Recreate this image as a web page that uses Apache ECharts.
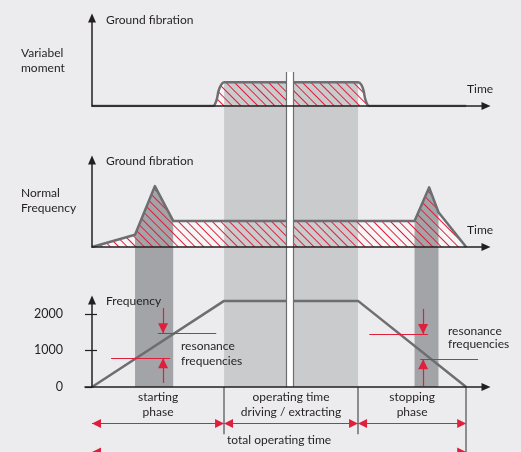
<!DOCTYPE html>
<html>
<head>
<meta charset="utf-8">
<script src="https://cdn.jsdelivr.net/npm/echarts@6/dist/echarts.min.js"></script>
<style>
  html, body { margin: 0; padding: 0; background: #ececee; }
  #chart { width: 521px; height: 452px; }
</style>
</head>
<body>
<div id="chart"></div>
<script>
// schematic time axis: 0 = switch on, 100 = machine stopped
const vmTime = [0, 32.3, 33.3, 33.8, 34.5, 35.3, 71.1, 72.0, 72.6, 73.1, 74.1, 100];
const vmLevel = [0, 0, 6.8, 17, 24, 27, 27, 24, 17, 6.8, 0, 0];
const nfTime = [0, 11.5, 16.8, 21.7, 86.2, 90.1, 92.6, 100];
const nfLevel = [0, 14, 70, 30, 30, 68.5, 40, 0];
const freqTime = [0, 35.3, 71.1, 100];
const freqValue = [0, 2356, 2356, 0];
const freqTicks = [0, 1000, 2000];
const phaseEdges = [0, 35.3, 71.1, 100];
const phaseLabels = ['starting\nphase', 'operating time\ndriving / extracting', 'stopping\nphase'];
const totalLabel = 'total operating time';
const startBand = [11.5, 21.7];
const stopBand = [86.2, 92.6];
const breakAt = [52.0, 53.9];
// resonance marks: [from, to, frequency] and arrows [time, from, to]
const resLines = [[17.6, 33.2, 1471], [5.1, 20.9, 786], [74.1, 89.8, 1452], [87.7, 103.2, 759]];
const resArrows = [[19.0, 2164, 1471], [19.0, 110, 786], [88.5, 2137, 1452], [88.5, 27, 759]];

const BG = '#ececee', LIGHT = '#f6f6f7', OP = '#c9cbcc', DARK = '#a2a4a7';
const CURVE = '#6d6e71', INK = '#231f20', RED = '#e01f3d';
const X_MAX = 105.3, X_MIN3 = -1.87;
const PHASE_ROW = 37, TOTAL_ROW = 66, GUIDE_END = 48;

const chart = echarts.init(document.getElementById('chart'));

const pts = (ts, vs) => ts.map((t, i) => [t, vs[i]]);
const within = (data, a, b) => data.filter(p => p[0] >= a && p[0] <= b);

const vm = pts(vmTime, vmLevel);
const nf = pts(nfTime, nfLevel);
const freq = pts(freqTime, freqValue);

const hatch = {
  symbol: 'rect', symbolSize: 1, color: RED,
  dashArrayX: [1, 0], dashArrayY: [1, 5], rotation: Math.PI / 4
};

const arrowLine = {
  show: true, symbol: ['none', 'triangle'], symbolSize: [8, 9],
  lineStyle: { color: INK, width: 1.5 }
};

function xAx(gridIndex, min, show) {
  return {
    type: 'value', gridIndex, min, max: X_MAX, show, z: 8,
    axisLine: arrowLine, axisTick: { show: false }, axisLabel: { show: false }, splitLine: { show: false }
  };
}

function yAx(gridIndex, max, extra) {
  return Object.assign({
    type: 'value', gridIndex, min: 0, max, z: 8, position: 'left',
    axisLine: arrowLine, axisTick: { show: false }, axisLabel: { show: false }, splitLine: { show: false }
  }, extra || {});
}

function panelSeries(ax, data, bands, smooth) {
  const base = { type: 'line', xAxisIndex: ax, yAxisIndex: ax, symbol: 'none', smooth, silent: true };
  const out = [Object.assign({}, base, {
    data, z: 2, lineStyle: { width: 0 }, areaStyle: { color: LIGHT, opacity: 1 }
  })];
  bands.forEach(b => {
    out.push(Object.assign({}, base, {
      data: within(data, b[0], b[1]), z: 3, lineStyle: { width: 0 }, areaStyle: { color: b[2], opacity: 1 }
    }));
  });
  out.push(Object.assign({}, base, {
    data, z: 4,
    lineStyle: { color: CURVE, width: 2.5, join: 'round' },
    areaStyle: { color: 'rgba(0,0,0,0)', opacity: 1 },
    itemStyle: { color: CURVE, decal: hatch }
  }));
  return out;
}

function txt(x, y, text, lineHeight) {
  return {
    type: 'text', x, y, silent: true, z: 20,
    style: { text, fill: INK, font: '12px Lato', lineHeight: lineHeight || 14, verticalAlign: 'middle', align: 'left' }
  };
}

const resMark = resLines.map(r => [
  { coord: [r[0], r[2]], symbol: 'none' }, { coord: [r[1], r[2]], symbol: 'none' }
]).concat(resArrows.map(a => [
  { coord: [a[0], a[1]], symbol: 'none' }, { coord: [a[0], a[2]], symbol: 'triangle' }
]));

const annMark = [];
for (let i = 0; i < phaseLabels.length; i++) {
  annMark.push([
    { coord: [phaseEdges[i], PHASE_ROW], label: { show: true, formatter: phaseLabels[i] } },
    { coord: [phaseEdges[i + 1], PHASE_ROW] }
  ]);
}
annMark.push([
  { coord: [phaseEdges[0], TOTAL_ROW], label: { show: true, formatter: totalLabel } },
  { coord: [phaseEdges[3], TOTAL_ROW] }
]);
[phaseEdges[1], phaseEdges[2]].forEach(t => {
  annMark.push([
    { coord: [t, 0], symbol: 'none', lineStyle: { color: CURVE, width: 1.5, type: 'solid' } },
    { coord: [t, GUIDE_END], symbol: 'none' }
  ]);
});
annMark.push([
  { coord: [phaseEdges[3], 0], symbol: 'none', lineStyle: { color: CURVE, width: 1.5, type: 'solid' } },
  { coord: [phaseEdges[3], TOTAL_ROW], symbol: 'none' }
]);

const option = {
  backgroundColor: BG,
  animation: false,
  textStyle: { fontFamily: 'Lato' },
  grid: [
    { left: 92, width: 394, top: 18, height: 88 },
    { left: 92, width: 394, top: 160, height: 87 },
    { left: 85, width: 401, top: 300, height: 87 },
    { left: 92, width: 394, top: 106, height: 281 },
    { left: 92, width: 394, top: 247, height: 140 },
    { left: 92, width: 394, top: 72, height: 315 },
    { left: 85, width: 401, top: 387, height: 66 }
  ],
  xAxis: [
    xAx(0, 0, true), xAx(1, 0, true), xAx(2, X_MIN3, true),
    xAx(3, 0, false), xAx(4, 0, false), xAx(5, 0, false), xAx(6, X_MIN3, false)
  ],
  yAxis: [
    yAx(0, 100),
    yAx(1, 100),
    yAx(2, 2380, {
      axisTick: { show: true, length: 7, customValues: freqTicks, lineStyle: { color: INK, width: 1.2 } },
      axisLabel: {
        show: true, customValues: freqTicks, margin: 22, color: INK, fontSize: 12.5, fontFamily: 'Lato',
        formatter: v => String(v)
      }
    }),
    // second copy of the frequency scale: the right half of the crossing ticks
    yAx(2, 2380, {
      offset: -7,
      axisLine: { show: false, onZero: false },
      axisTick: { show: true, inside: true, length: 5, customValues: freqTicks.slice(1), lineStyle: { color: INK, width: 1.2 } }
    }),
    { type: 'value', gridIndex: 3, min: 0, max: 1, show: false },
    { type: 'value', gridIndex: 4, min: 0, max: 1, show: false },
    { type: 'value', gridIndex: 5, min: 0, max: 1, show: false },
    { type: 'value', gridIndex: 6, min: 0, max: TOTAL_ROW, inverse: true, show: false }
  ],
  graphic: [
    txt(106, 20, 'Ground fibration'),
    txt(21, 60.5, 'Variabel\nmoment', 15),
    txt(467, 89, 'Time'),
    txt(106, 161, 'Ground fibration'),
    txt(21, 200.5, 'Normal\nFrequency', 15.5),
    txt(467, 230, 'Time'),
    txt(106, 301, 'Frequency'),
    txt(181, 353.5, 'resonance\nfrequencies', 14.5),
    txt(448, 338, 'resonance\nfrequencies', 13)
  ],
  series: [
    // operating band behind the three panels
    {
      type: 'line', xAxisIndex: 3, yAxisIndex: 4, data: [], silent: true,
      markArea: { silent: true, z: 3, itemStyle: { color: OP }, data: [[{ xAxis: phaseEdges[1] }, { xAxis: phaseEdges[2] }]] }
    },
    // resonance bands below the normal-frequency panel
    {
      type: 'line', xAxisIndex: 4, yAxisIndex: 5, data: [], silent: true,
      markArea: {
        silent: true, z: 3, itemStyle: { color: DARK },
        data: [[{ xAxis: startBand[0] }, { xAxis: startBand[1] }], [{ xAxis: stopBand[0] }, { xAxis: stopBand[1] }]]
      }
    },
    ...panelSeries(0, vm, [[phaseEdges[1], phaseEdges[2], OP]], 0.3),
    ...panelSeries(1, nf, [[startBand[0], startBand[1], DARK], [stopBand[0], stopBand[1], DARK]], false),
    {
      type: 'line', xAxisIndex: 2, yAxisIndex: 2, data: freq, symbol: 'none', silent: true, z: 5,
      lineStyle: { color: CURVE, width: 2.5 },
      markLine: {
        silent: true, z: 6, symbolSize: [10, 10], symbolOffset: [[0, 5], [0, 5]],
        lineStyle: { color: RED, width: 1.2, type: 'solid' },
        label: { show: false }, emphasis: { disabled: true },
        data: resMark
      }
    },
    // time break
    {
      type: 'line', xAxisIndex: 5, yAxisIndex: 6, data: [], silent: true,
      markArea: { silent: true, z: 7, itemStyle: { color: '#ffffff' }, data: [[{ xAxis: breakAt[0] }, { xAxis: breakAt[1] }]] },
      markLine: {
        silent: true, z: 8, symbol: 'none', label: { show: false },
        lineStyle: { color: CURVE, width: 1.2, type: 'solid' },
        data: [{ xAxis: breakAt[0] }, { xAxis: breakAt[1] }]
      }
    },
    // phase annotation
    {
      type: 'line', xAxisIndex: 6, yAxisIndex: 7, data: [], silent: true,
      markLine: {
        silent: true, z: 6, symbol: ['triangle', 'triangle'], symbolSize: [9, 9], symbolOffset: [[0, 4.5], [0, 4.5]],
        lineStyle: { color: RED, width: 1.2, type: 'solid' },
        label: {
          show: false, position: 'insideMiddleTop', distance: 4, color: INK,
          fontFamily: 'Lato', fontSize: 12, lineHeight: 15, align: 'center'
        },
        emphasis: { disabled: true },
        data: annMark
      }
    }
  ]
};

chart.setOption(option);
</script>
</body>
</html>
